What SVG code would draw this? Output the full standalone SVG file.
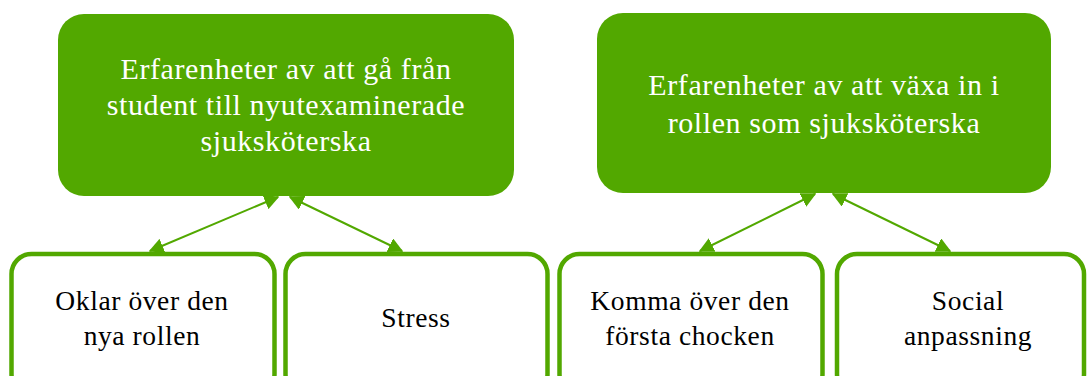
<svg xmlns="http://www.w3.org/2000/svg" width="1088" height="376" viewBox="0 0 1088 376">
<style>
.top{fill:#52a800;}
.bot{fill:#fff;stroke:#52a800;stroke-width:4.5;}
.tw{font-family:'Liberation Serif','Times New Roman','DejaVu Serif',serif;font-size:30px;letter-spacing:0.6px;fill:#fff;text-anchor:middle;}
.tb{font-family:'Liberation Serif','Times New Roman','DejaVu Serif',serif;font-size:27.5px;letter-spacing:0.6px;fill:#000;text-anchor:middle;}
.c{stroke:#52a800;stroke-width:2;fill:none;marker-start:url(#ah);marker-end:url(#ah);}
</style>
<defs>
<marker id="ah" viewBox="0 0 10 10" refX="9" refY="5" markerWidth="15" markerHeight="15" markerUnits="userSpaceOnUse" orient="auto-start-reverse">
<path d="M0,0 L10,5 L0,10 Z" fill="#52a800"/>
</marker>
</defs>
<rect width="1088" height="376" fill="#fff"/>
<g id="n1">
<rect class="top" x="58" y="14" width="456" height="182" rx="26"/>
<text class="tw" x="286" y="79">Erfarenheter av att gå från</text>
<text class="tw" x="286" y="115">student till nyutexaminerade</text>
<text class="tw" x="286" y="151">sjuksköterska</text>
</g>
<g id="n2">
<rect class="top" x="597" y="13" width="454" height="180" rx="26"/>
<text class="tw" x="824" y="95">Erfarenheter av att växa in i</text>
<text class="tw" x="824" y="133">rollen som sjuksköterska</text>
</g>
<g id="n3">
<rect class="bot" x="11.5" y="254" width="263" height="140" rx="20"/>
<text class="tb" x="142" y="310">Oklar över den</text>
<text class="tb" x="142" y="345">nya rollen</text>
</g>
<g id="n4">
<rect class="bot" x="285.5" y="254" width="262" height="140" rx="20"/>
<text class="tb" x="416" y="327">Stress</text>
</g>
<g id="n5">
<rect class="bot" x="559.5" y="254" width="263" height="140" rx="20"/>
<text class="tb" x="690" y="310">Komma över den</text>
<text class="tb" x="690" y="345">första chocken</text>
</g>
<g id="n6">
<rect class="bot" x="837" y="254" width="247" height="140" rx="20"/>
<text class="tb" x="968" y="310">Social</text>
<text class="tb" x="968" y="345">anpassning</text>
</g>
<g id="connectors">
<line class="c" x1="278" y1="197" x2="150" y2="251"/>
<line class="c" x1="290" y1="197" x2="402" y2="251"/>
<line class="c" x1="815" y1="194" x2="700" y2="251"/>
<line class="c" x1="833" y1="194" x2="950" y2="251"/>
</g>
</svg>
